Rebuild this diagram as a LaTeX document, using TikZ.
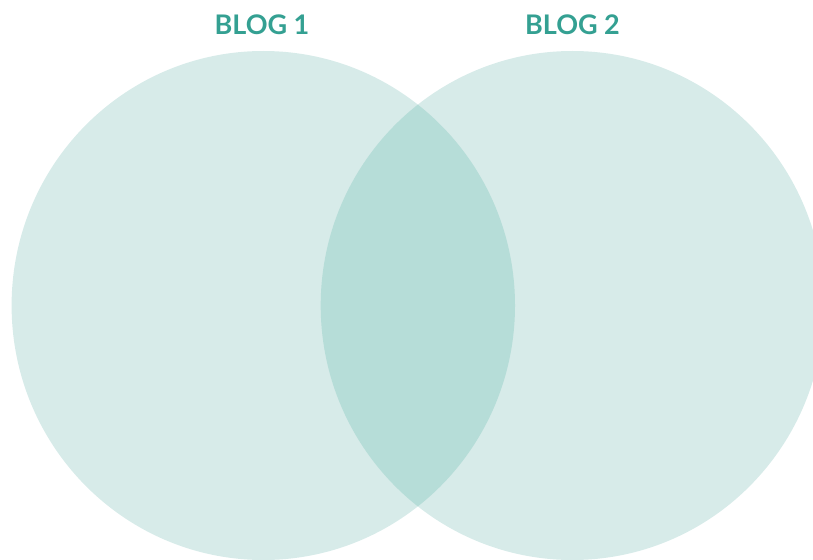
\documentclass[tikz,border=0pt]{standalone}
\usepackage{fontspec}
\setmainfont{Lato}
\definecolor{vennlight}{HTML}{D7EBE9}
\definecolor{venndark}{HTML}{B6DDD8}
\definecolor{titleteal}{HTML}{34A092}
\begin{document}
\begin{tikzpicture}[x=1pt,y=-1pt,
  setfill/.style={fill=vennlight,draw=none},
  settitle/.style={text=titleteal,font=\bfseries\fontsize{27}{30}\selectfont,inner sep=0pt,anchor=base}]
\useasboundingbox (0,0) rectangle (813,559);
\begin{scope}
\clip (0,0) rectangle (813,559);
\path[setfill] (263.3,305.5) ellipse [x radius=251.7, y radius=254.5];
\path[setfill] (572.4,305.5) ellipse [x radius=251.7, y radius=254.5];
\begin{scope}
\clip (263.3,305.5) ellipse [x radius=251.7, y radius=254.5];
\path[fill=venndark] (572.4,305.5) ellipse [x radius=251.7, y radius=254.5];
\end{scope}
\end{scope}
\node[settitle] (blog1) at (262,35) {BLOG 1};
\node[settitle] (blog2) at (572.5,35) {BLOG 2};
\end{tikzpicture}
\end{document}
